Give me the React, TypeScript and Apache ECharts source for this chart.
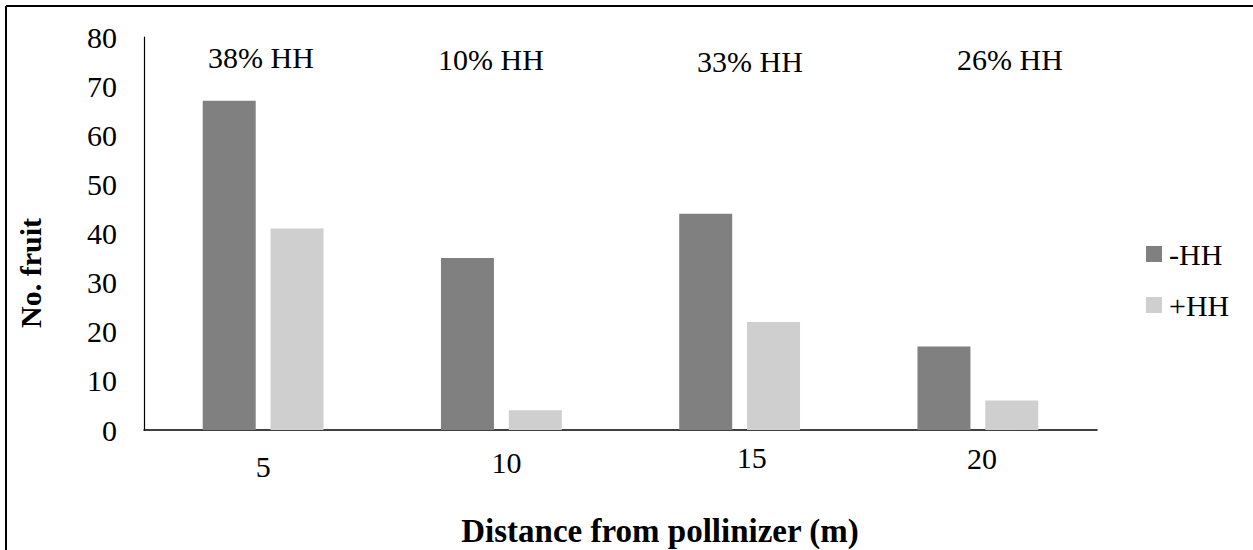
import React, { useEffect, useRef } from "react";
import * as echarts from "echarts";

const categories = ["5", "10", "15", "20"];
const minusHH = [67, 35, 44, 17];
const plusHH = [41, 4, 22, 6];
const pctLabels = ["38% HH", "10% HH", "33% HH", "26% HH"];
const yTicks = { min: 0, max: 80, interval: 10 };

const FONT = '"Liberation Serif", "Times New Roman", serif';

export default function App() {
  const ref = useRef<HTMLDivElement>(null);
  useEffect(() => {
    if (!ref.current) return;
    const chart = echarts.init(ref.current, null, { renderer: "svg" });
    // per-label offsets (pixels) for the staggered category labels
    const labelPad = [
      [22, 0],
      [15, 10],
      [4, 24],
      [6, 8],
    ];
    const rich: Record<string, any> = {};
    labelPad.forEach((p, i) => {
      rich["l" + i] = {
        fontSize: 30,
        fontFamily: FONT,
        color: "#000",
        lineHeight: 30,
        padding: [p[0], 0, 0, p[1]],
      };
    });
    const pctX = [261, 491, 750, 1010];
    const pctY = [57, 59, 61, 59];
    chart.setOption({
      animation: false,
      backgroundColor: "#fff",
      textStyle: { fontFamily: FONT },
      grid: { left: 144, right: 156, top: 37, bottom: 120, containLabel: false },
      legend: {
        orient: "vertical",
        left: 1141,
        top: 234,
        icon: "rect",
        itemWidth: 16,
        itemHeight: 16,
        itemGap: 21,
        textStyle: { fontSize: 30, fontFamily: FONT, color: "#000", padding: [0, 0, 0, 2] },
        data: ["-HH", "+HH"],
      },
      xAxis: {
        type: "category",
        data: categories,
        axisLine: { show: true, lineStyle: { color: "#000", width: 1.5 } },
        axisTick: { show: false },
        axisLabel: {
          margin: 10,
          verticalAlign: "top",
          formatter: (v: string, i: number) => `{l${i}|${v}}`,
          rich,
        },
      },
      yAxis: {
        type: "value",
        min: yTicks.min,
        max: yTicks.max,
        interval: yTicks.interval,
        axisLine: { show: true, lineStyle: { color: "#000", width: 1.2 } },
        axisTick: { show: false },
        splitLine: { show: false },
        axisLabel: { fontSize: 30, fontFamily: FONT, color: "#000", margin: 27 },
      },
      series: [
        {
          name: "-HH",
          type: "bar",
          data: minusHH,
          barWidth: 53,
          barGap: "28%",
          itemStyle: { color: "#808080" },
        },
        {
          name: "+HH",
          type: "bar",
          data: plusHH,
          barWidth: 53,
          itemStyle: { color: "#d0cfd0" },
        },
      ],
      graphic: [
        { type: "line", shape: { x1: 6, y1: 6, x2: 1253, y2: 6 }, style: { stroke: "#000", lineWidth: 2 } },
        { type: "line", shape: { x1: 6, y1: 6, x2: 6, y2: 550 }, style: { stroke: "#000", lineWidth: 2 } },
        ...pctLabels.map((t, i) => ({
          type: "text",
          x: pctX[i],
          y: pctY[i],
          style: {
            text: t,
            font: `30px ${FONT}`,
            fill: "#000",
            textAlign: "center",
            textVerticalAlign: "middle",
          },
        })),
        {
          type: "text",
          x: 30,
          y: 273,
          rotation: Math.PI / 2,
          style: {
            text: "No. fruit",
            font: `bold 30px ${FONT}`,
            fill: "#000",
            textAlign: "center",
            textVerticalAlign: "middle",
          },
        },
        {
          type: "text",
          x: 660,
          y: 531,
          style: {
            text: "Distance from pollinizer (m)",
            font: `bold 33px ${FONT}`,
            fill: "#000",
            textAlign: "center",
            textVerticalAlign: "middle",
          },
        },
      ],
    });
    return () => chart.dispose();
  }, []);
  return (
    <div
      ref={ref}
      style={{ position: "absolute", left: 0, top: 0, width: 1253, height: 550 }}
    />
  );
}
